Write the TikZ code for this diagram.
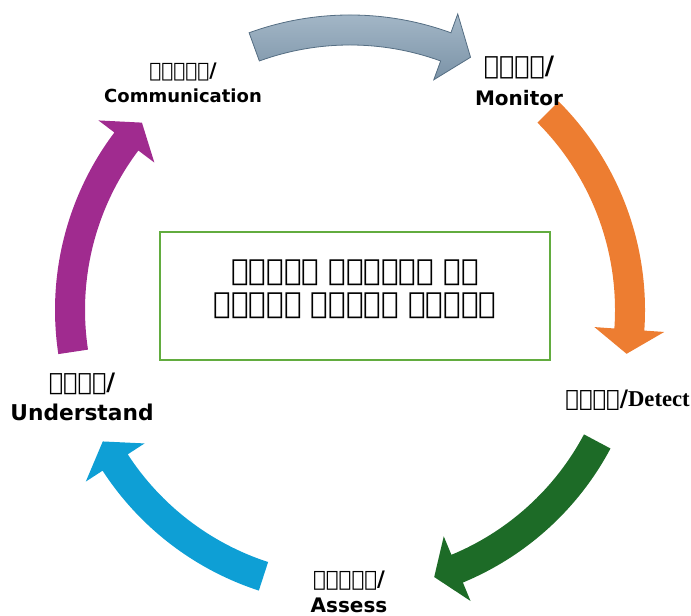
\documentclass[tikz,border=0pt]{standalone}
\usepackage{fontspec}
\setmainfont{DejaVu Sans}
\newfontfamily\eth{DejaVu Sans}
\newfontfamily\latserif{Liberation Serif}
\usetikzlibrary{calc}
\definecolor{arrorange}{HTML}{ED7D31}
\definecolor{arrgreen}{HTML}{1D6B27}
\definecolor{arrblue}{HTML}{0E9FD5}
\definecolor{arrpurple}{HTML}{A02B8F}
\definecolor{slatetop}{HTML}{A6B9C9}
\definecolor{slatebot}{HTML}{7B93A7}
\definecolor{slateline}{HTML}{556E83}
\definecolor{boxgreen}{HTML}{62AC3F}
\newcommand\cyclearrow[4]{%
  \path[#1] (#2:295) arc[start angle=#2, end angle=#3, radius=295]
    -- (#3:315) -- (#4:280) -- (#3:245) -- (#3:265)
    arc[start angle=#3, end angle=#2, radius=265] -- cycle;}
\tikzset{
  lbl/.style={align=center, inner sep=0pt, font=\bfseries\fontsize{15}{20}\selectfont},
  centerbox/.style={draw=boxgreen, line width=1.5pt, minimum width=292.5pt, minimum height=96pt, inner sep=0pt},
}
\begin{document}
\begin{tikzpicture}[x=0.75pt, y=0.75pt]
\useasboundingbox (0,0) rectangle (691,616);
\begin{scope}[shift={(350,306)}]
  \cyclearrow{draw=slateline, line width=0.6pt, top color=slatetop, bottom color=slatebot}{110}{70}{64.5}
  \cyclearrow{fill=arrorange}{45}{-4}{-9}
  \cyclearrow{fill=arrgreen}{-28}{-67.5}{-72.5}
  \cyclearrow{fill=arrblue}{252}{213}{208}
  \cyclearrow{fill=arrpurple}{188.6}{143}{138}
\end{scope}
\node[centerbox] (box) at (355,320) {};
\node[align=center, font=\eth\fontsize{22}{25}\selectfont] (goal) at (355,327)
  {ታካሚዎች ከመድኃኒት ጋር\\የተገናኘ ጉዳቶችን መከላከል};
\node[lbl, font=\bfseries\fontsize{13.5}{19}\selectfont] (comm) at (183,533) {{\eth\fontsize{15}{19}\selectfont ተግባቦት/}\\Communication};
\node[lbl, font=\bfseries\fontsize{15}{23}\selectfont] (mon) at (519,535) {{\eth\fontsize{19}{23}\selectfont ክትትል/}\\Monitor};
\node[lbl, anchor=east] (det) at (690,216) {{\eth\fontsize{17}{20}\selectfont መለየት/}{\latserif\fontsize{17}{20}\selectfont Detect}};
\node[lbl, font=\bfseries\fontsize{16.3}{23}\selectfont] (und) at (82,219) {{\eth\fontsize{18}{23}\selectfont መረዳት/}\\Understand};
\node[lbl] (ass) at (349,24) {{\eth\fontsize{16}{20}\selectfont መገምገም/}\\Assess};
\end{tikzpicture}
\end{document}
